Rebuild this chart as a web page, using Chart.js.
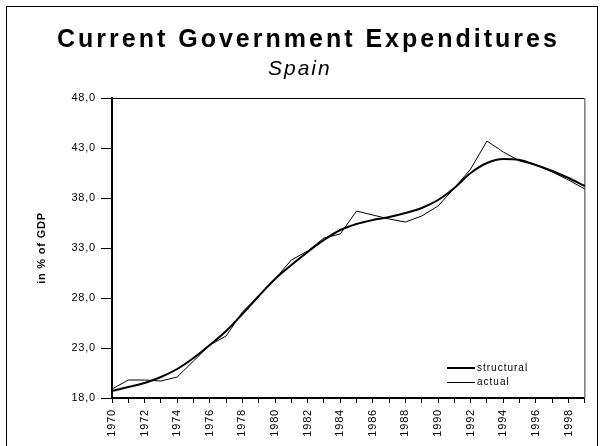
<!DOCTYPE html>
<html>
<head>
<meta charset="utf-8">
<script src="https://cdn.jsdelivr.net/npm/chart.js@4.4.1/dist/chart.umd.min.js"></script>
<style>
    body { margin: 0; background: #fff; }
</style>
</head>
<body>
<canvas id="graficoGasto" width="604" height="446"></canvas>
<script>
const titulo = 'Current Government Expenditures';
const subtitulo = 'Spain';
const tituloEjeY = 'in % of GDP';

const anios = ['1970', '1971', '1972', '1973', '1974', '1975', '1976', '1977', '1978', '1979',
               '1980', '1981', '1982', '1983', '1984', '1985', '1986', '1987', '1988', '1989',
               '1990', '1991', '1992', '1993', '1994', '1995', '1996', '1997', '1998', '1999'];

const structural = [18.7, 19.1, 19.5, 20.1, 20.9, 22.0, 23.3, 24.7, 26.4, 28.2,
                    29.9, 31.3, 32.6, 33.8, 34.8, 35.4, 35.8, 36.1, 36.5, 37.0,
                    37.8, 39.0, 40.5, 41.5, 41.9, 41.8, 41.3, 40.7, 40.0, 39.2];

const actual = [18.9, 19.8, 19.8, 19.7, 20.1, 21.7, 23.3, 24.2, 26.6, 28.2,
                29.9, 31.8, 32.7, 34.0, 34.4, 36.7, 36.3, 35.9, 35.6, 36.2,
                37.2, 39.0, 40.9, 43.7, 42.6, 41.7, 41.3, 40.6, 39.8, 38.9];

const ticksY = [18, 23, 28, 33, 38, 43, 48];

const fuente = '"Liberation Sans", Arial, sans-serif';

// titulo, leyenda y marco dibujados a mano (espaciado de letras como el original)
const marco = {
    id: 'marco',
    beforeDraw(chart) {
        chart.ctx.letterSpacing = '0.8px';
    },
    beforeDatasetsDraw(chart) {
        const { ctx, chartArea: a } = chart;
        ctx.save();
        ctx.strokeStyle = '#000';
        ctx.lineWidth = 1;
        ctx.beginPath();
        ctx.moveTo(a.left, a.top + 0.5);
        ctx.lineTo(a.right, a.top + 0.5);
        ctx.stroke();
        ctx.strokeStyle = '#777';
        ctx.lineWidth = 1.5;
        ctx.beginPath();
        ctx.moveTo(a.right, a.top);
        ctx.lineTo(a.right, a.bottom);
        ctx.stroke();
        ctx.restore();
    },
    afterDraw(chart) {
        const ctx = chart.ctx;
        ctx.save();
        ctx.strokeStyle = '#000';
        ctx.lineWidth = 1;
        ctx.strokeRect(6.5, 6.5, 591, 480);

        ctx.fillStyle = '#000';
        ctx.textAlign = 'left';
        ctx.textBaseline = 'alphabetic';
        ctx.font = 'bold 25px ' + fuente;
        ctx.letterSpacing = '3px';
        ctx.fillText(titulo, 57, 47);
        ctx.font = 'italic 21px ' + fuente;
        ctx.letterSpacing = '2px';
        ctx.fillText(subtitulo, 268, 75);

        // leyenda
        ctx.font = '10px ' + fuente;
        ctx.letterSpacing = '1px';
        ctx.textBaseline = 'middle';
        const filas = [368, 382.5];
        chart.data.datasets.forEach((ds, i) => {
            ctx.strokeStyle = ds.borderColor;
            ctx.lineWidth = ds.borderWidth;
            ctx.beginPath();
            ctx.moveTo(447, filas[i]);
            ctx.lineTo(475, filas[i]);
            ctx.stroke();
            ctx.fillText(ds.label, 477, filas[i]);
        });
        ctx.restore();
    }
};

new Chart(document.getElementById('graficoGasto'), {
    type: 'line',
    data: {
        labels: anios,
        datasets: [{
            label: 'structural',
            data: structural,
            borderColor: '#000',
            borderWidth: 2,
            pointRadius: 0,
            cubicInterpolationMode: 'monotone',
            fill: false
        }, {
            label: 'actual',
            data: actual,
            borderColor: '#000',
            borderWidth: 1,
            pointRadius: 0,
            tension: 0,
            fill: false
        }]
    },
    options: {
        responsive: false,
        animation: false,
        devicePixelRatio: 1,
        layout: {
            padding: { left: 0, right: 14, top: 98, bottom: 0 }
        },
        scales: {
            x: {
                offset: false,
                afterFit: (s) => { s.height = 48; },
                grid: { drawOnChartArea: false, tickLength: 5, color: '#000' },
                border: { color: '#000', width: 2 },
                ticks: {
                    autoSkip: false,
                    maxRotation: 90,
                    minRotation: 90,
                    padding: 6,
                    color: '#000',
                    font: { family: fuente, size: 11 },
                    callback: function (v, i) {
                        return i % 2 === 0 ? anios[i] : '';
                    }
                }
            },
            y: {
                min: 18,
                max: 48,
                afterFit: (s) => { s.width = 112; },
                afterBuildTicks: (s) => { s.ticks = ticksY.map(v => ({ value: v })); },
                grid: { drawOnChartArea: false, tickLength: 11, color: '#000' },
                border: { color: '#000', width: 2 },
                ticks: {
                    padding: 5,
                    color: '#000',
                    font: { family: fuente, size: 11 },
                    callback: (v) => v.toFixed(1).replace('.', ',')
                },
                title: {
                    display: true,
                    text: tituloEjeY,
                    color: '#000',
                    font: { family: fuente, size: 11, weight: 'bold' },
                    padding: { top: 35, bottom: 0 }
                }
            }
        },
        plugins: {
            legend: { display: false },
            tooltip: { enabled: false }
        }
    },
    plugins: [marco]
});
</script>
</body>
</html>
